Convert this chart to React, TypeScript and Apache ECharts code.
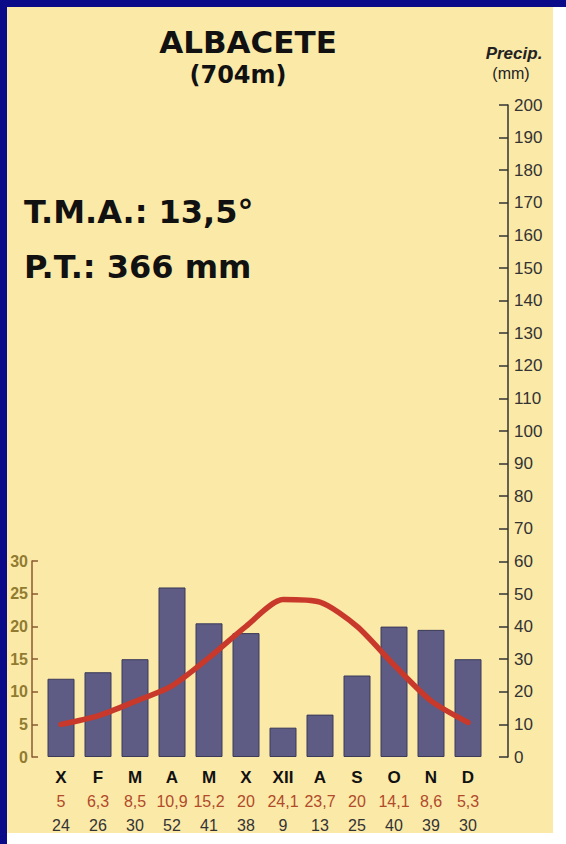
import React, { useEffect, useRef } from "react";
import * as echarts from "echarts";

const months = ["X", "F", "M", "A", "M", "X", "XII", "A", "S", "O", "N", "D"];
const temperatures = [5, 6.3, 8.5, 10.9, 15.2, 20, 24.1, 23.7, 20, 14.1, 8.6, 5.3];
const precipitation = [24, 26, 30, 52, 41, 38, 9, 13, 25, 40, 39, 30];
const stationName = "ALBACETE";
const altitude = "(704m)";
const tma = "T.M.A.: 13,5°";
const pt = "P.T.: 366 mm";

const fmt = (v: number) => String(v).replace(".", ",");

export default function App() {
  const ref = useRef<HTMLDivElement>(null);
  useEffect(() => {
    if (!ref.current) return;
    const chart = echarts.init(ref.current, null, { renderer: "svg" });
    const gridLeft = 42.5;
    const gridRight = 79.5;
    const bottom = 87;
    const heading = "'Comic Sans MS', 'DejaVu Sans', sans-serif";
    chart.setOption({
      animation: false,
      backgroundColor: "transparent",
      grid: [
        { left: gridLeft, right: gridRight, top: 105, bottom },
        { left: gridLeft, right: gridRight, top: 561, bottom },
      ],
      xAxis: [
        {
          type: "category",
          gridIndex: 0,
          data: months,
          axisLine: { show: false },
          axisTick: { show: false },
          axisLabel: {
            margin: 9,
            interval: 0,
            formatter: (value: string, idx: number) =>
              `{m|${value}}\n{t|${fmt(temperatures[idx])}}\n{p|${precipitation[idx]}}`,
            rich: {
              m: { fontFamily: "Liberation Sans, Arial", fontWeight: "bold", fontSize: 17, color: "#111", lineHeight: 23 },
              t: { fontFamily: "Liberation Sans, Arial", fontWeight: 500, fontSize: 16, color: "#b04a2a", lineHeight: 24 },
              p: { fontFamily: "Liberation Sans, Arial", fontSize: 16, color: "#333", lineHeight: 24 },
            },
          },
        },
        {
          type: "category",
          gridIndex: 1,
          data: months,
          show: false,
        },
      ],
      yAxis: [
        {
          type: "value",
          gridIndex: 0,
          position: "right",
          offset: 21.5,
          min: 0,
          max: 200,
          interval: 10,
          splitLine: { show: false },
          axisLine: { show: true, lineStyle: { color: "#333", width: 1.5 } },
          axisTick: { show: true, inside: true, length: 9, lineStyle: { color: "#333", width: 1.5 } },
          axisLabel: { margin: 6, fontFamily: "Liberation Sans, Arial", fontSize: 17, color: "#333" },
        },
        {
          type: "value",
          gridIndex: 1,
          position: "left",
          offset: 10.5,
          min: 0,
          max: 30,
          interval: 5,
          splitLine: { show: false },
          axisLine: { show: true, lineStyle: { color: "#8b5a30", width: 1.5 } },
          axisTick: { show: true, inside: true, length: 6, lineStyle: { color: "#8b5a30", width: 1.5 } },
          axisLabel: {
            margin: 4,
            fontFamily: "Liberation Sans Narrow, Liberation Sans, Arial",
            fontWeight: "bold",
            fontSize: 16,
            color: "#917b30",
          },
        },
      ],
      series: [
        {
          type: "bar",
          xAxisIndex: 0,
          yAxisIndex: 0,
          data: precipitation,
          barWidth: 27,
          itemStyle: { color: "#5e5b84", borderColor: "#3b3a58", borderWidth: 1 },
          z: 2,
        },
        {
          type: "line",
          xAxisIndex: 1,
          yAxisIndex: 1,
          data: temperatures,
          smooth: 0.25,
          symbol: "none",
          lineStyle: { color: "#c8392b", width: 5.5, cap: "round", join: "round" },
          z: 5,
        },
      ],
      graphic: [
        {
          type: "text",
          x: 248,
          y: 42,
          style: {
            text: stationName,
            textAlign: "center",
            textVerticalAlign: "middle",
            font: `bold 31px ${heading}`,
            fill: "#111",
          },
        },
        {
          type: "text",
          x: 238,
          y: 75,
          style: {
            text: altitude,
            textAlign: "center",
            textVerticalAlign: "middle",
            font: `bold 24px ${heading}`,
            fill: "#111",
          },
        },
        {
          type: "text",
          x: 514,
          y: 53,
          style: {
            text: "Precip.",
            textAlign: "center",
            textVerticalAlign: "middle",
            font: "italic bold 17px 'Liberation Sans', Arial",
            fill: "#222",
          },
        },
        {
          type: "text",
          x: 511,
          y: 73,
          style: {
            text: "(mm)",
            textAlign: "center",
            textVerticalAlign: "middle",
            font: "16px 'Liberation Sans', Arial",
            fill: "#222",
          },
        },
        {
          type: "text",
          x: 24,
          y: 212,
          style: {
            text: tma,
            textAlign: "left",
            textVerticalAlign: "middle",
            font: `bold 32px ${heading}`,
            fill: "#111",
          },
        },
        {
          type: "text",
          x: 24,
          y: 267,
          style: {
            text: pt,
            textAlign: "left",
            textVerticalAlign: "middle",
            font: `bold 32px ${heading}`,
            fill: "#111",
          },
        },
      ],
    });
    return () => chart.dispose();
  }, []);

  return (
    <div style={{ position: "fixed", left: 0, top: 0, width: 566, height: 844, background: "#fff", overflow: "hidden" }}>
      <div style={{ position: "absolute", left: 0, top: 0, width: 553, height: 833, background: "#fbe9a8" }} />
      <div style={{ position: "absolute", left: 0, top: 0, width: 566, height: 7, background: "#0b0b8a" }} />
      <div style={{ position: "absolute", left: 0, top: 0, width: 7, height: 844, background: "#0b0b8a" }} />
      <div ref={ref} style={{ position: "absolute", left: 0, top: 0, width: 566, height: 844 }} />
    </div>
  );
}
